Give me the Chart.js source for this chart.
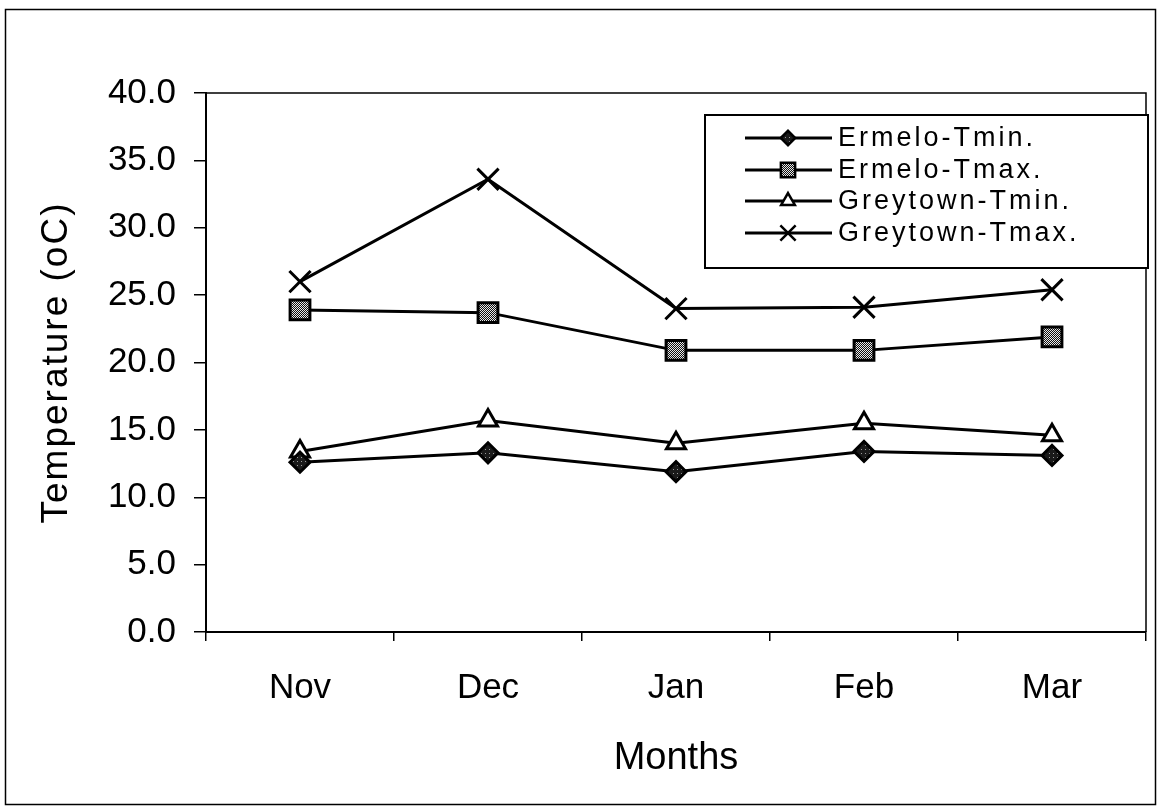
<!DOCTYPE html>
<html>
<head>
<meta charset="utf-8">
<script src="https://cdn.jsdelivr.net/npm/chart.js@4/dist/chart.umd.min.js"></script>
<style>
  html, body { margin: 0; padding: 0; background: #fff; }
  canvas { display: block; }
</style>
</head>
<body>
<canvas id="c" width="1158" height="807"></canvas>
<script>
// Monthly mean temperatures (°C)
const months = ['Nov', 'Dec', 'Jan', 'Feb', 'Mar'];
const ermeloTmin   = [12.6, 13.3, 11.9, 13.4, 13.1];
const ermeloTmax   = [23.9, 23.7, 20.9, 20.9, 21.9];
const greytownTmin = [13.4, 15.7, 14.0, 15.5, 14.6];
const greytownTmax = [26.0, 33.6, 24.0, 24.1, 25.4];
const yTicks = [0, 5, 10, 15, 20, 25, 30, 35, 40];
const yTitle = 'Temperature (oC)';
const xTitle = 'Months';

const FONT = 'Liberation Sans, Arial, sans-serif';

// small repeating fills for the marker faces
function dotPattern(bg, fg, size, cells) {
  const c = document.createElement('canvas');
  c.width = c.height = size;
  const g = c.getContext('2d');
  g.fillStyle = bg; g.fillRect(0, 0, size, size);
  g.fillStyle = fg;
  cells.forEach(([x, y]) => g.fillRect(x, y, 1, 1));
  return g.createPattern(c, 'repeat');
}
const squareFill  = dotPattern('#111', '#e8e8e8', 2, [[0, 0], [1, 1]]);
const diamondFill = dotPattern('#1a1a1a', '#9a9a9a', 4, [[1, 1]]);

const series = [
  { label: 'Ermelo-Tmin.',   data: ermeloTmin,   pointStyle: 'rectRot',  radius: 10, bg: diamondFill },
  { label: 'Ermelo-Tmax.',   data: ermeloTmax,   pointStyle: 'rect',     radius: 14, bg: squareFill },
  { label: 'Greytown-Tmin.', data: greytownTmin, pointStyle: 'triangle', radius: 11, bg: '#fff' },
  { label: 'Greytown-Tmax.', data: greytownTmax, pointStyle: 'crossRot', radius: 15, bg: '#fff' }
];

const datasets = series.map(s => ({
  label: s.label,
  data: s.data,
  borderColor: '#000',
  borderWidth: 3,
  pointStyle: s.pointStyle,
  pointRadius: s.radius,
  pointBackgroundColor: s.bg,
  pointBorderColor: '#000',
  pointBorderWidth: 3,
  tension: 0,
  fill: false
}));

// outer frame, plot-area box, rotated axis title and the boxed legend
const decorations = {
  id: 'decorations',
  afterDraw(chart) {
    const ctx = chart.ctx;
    const a = chart.chartArea;
    ctx.save();
    ctx.strokeStyle = '#000';
    ctx.lineWidth = 1.5;
    ctx.strokeRect(5.5, 9.5, 1150, 795);
    ctx.beginPath();
    ctx.moveTo(a.left, a.top); ctx.lineTo(a.right, a.top); ctx.lineTo(a.right, a.bottom);
    ctx.stroke();

    // y-axis title
    ctx.save();
    ctx.translate(57, (a.top + a.bottom) / 2);
    ctx.rotate(-Math.PI / 2);
    ctx.fillStyle = '#000';
    ctx.font = '37px ' + FONT;
    ctx.letterSpacing = '2px';
    ctx.textAlign = 'center';
    ctx.textBaseline = 'middle';
    ctx.fillText(yTitle, 0, 0);
    ctx.restore();

    // legend box
    const bx = 705, by = 115, bw = 443, bh = 153;
    ctx.fillStyle = '#fff';
    ctx.fillRect(bx, by, bw, bh);
    ctx.lineWidth = 2;
    ctx.strokeRect(bx, by, bw, bh);

    const rowY = [138, 170, 201, 233];
    chart.data.datasets.forEach((ds, i) => {
      const y = rowY[i];
      ctx.strokeStyle = '#000';
      ctx.lineWidth = 3;
      ctx.beginPath();
      ctx.moveTo(745, y); ctx.lineTo(832, y);
      ctx.stroke();
      ctx.fillStyle = ds.pointBackgroundColor;
      ctx.lineWidth = 2.5;
      Chart.helpers.drawPoint(ctx, {
        pointStyle: ds.pointStyle,
        radius: ds.pointRadius * 0.72,
        rotation: 0,
        borderWidth: 2.5
      }, 788, y);
      ctx.fillStyle = '#000';
      ctx.font = '27px ' + FONT;
      ctx.letterSpacing = '3px';
      ctx.textAlign = 'left';
      ctx.textBaseline = 'middle';
      ctx.fillText(ds.label, 838, y + 1);
      ctx.letterSpacing = '0px';
    });
    ctx.restore();
  }
};

const PAD_L = 31, PAD_T = 93, PAD_R = 12, PAD_B = 22;

new Chart(document.getElementById('c'), {
  type: 'line',
  data: { labels: months, datasets },
  plugins: [decorations],
  options: {
    responsive: false,
    animation: false,
    layout: { autoPadding: false, padding: { left: PAD_L, top: PAD_T, right: PAD_R, bottom: PAD_B } },
    plugins: { legend: { display: false }, tooltip: { enabled: false } },
    scales: {
      x: {
        offset: true,
        afterFit(scale) {
          scale.height = 807 - PAD_B - 632;
          scale.paddingLeft = 0;
          scale.paddingRight = 0;
        },
        grid: { offset: true, drawOnChartArea: false, color: '#000', lineWidth: 1.5, tickLength: 9 },
        border: { color: '#000', width: 2 },
        ticks: { color: '#000', font: { family: FONT, size: 35 }, padding: 26, maxRotation: 0 },
        title: { display: true, text: xTitle, color: '#000', font: { family: FONT, size: 38 } }
      },
      y: {
        min: 0,
        max: 40,
        afterFit(scale) {
          scale.width = 206 - PAD_L;
          scale.paddingTop = 0;
          scale.paddingBottom = 0;
        },
        afterBuildTicks(scale) { scale.ticks = yTicks.map(v => ({ value: v })); },
        grid: { drawOnChartArea: false, color: '#000', lineWidth: 1.5, tickLength: 12 },
        border: { color: '#000', width: 2 },
        ticks: { color: '#000', font: { family: FONT, size: 35 }, padding: 18, callback: v => v.toFixed(1) },
        title: { display: false }
      }
    }
  }
});
</script>
</body>
</html>
